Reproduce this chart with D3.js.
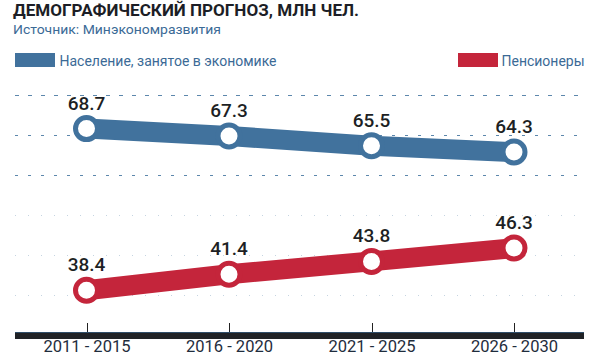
<!DOCTYPE html>
<html>
<head>
<meta charset="utf-8">
<script src="https://cdn.jsdelivr.net/npm/d3@7"></script>
<style>
html, body { margin: 0; padding: 0; background: #fff; }
svg { display: block; }
text { font-family: Roboto, "Liberation Sans", sans-serif; }
</style>
</head>
<body>
<svg id="chart" width="600" height="356"></svg>
<script>
const categories = ["2011 - 2015", "2016 - 2020", "2021 - 2025", "2026 - 2030"];
const employed = [68.7, 67.3, 65.5, 64.3];
const pensioners = [38.4, 41.4, 43.8, 46.3];
const seriesNames = ["Население, занятое в экономике", "Пенсионеры"];
const gridValues = [75, 67.5, 60, 52.5, 45, 37.5];
const title = "ДЕМОГРАФИЧЕСКИЙ ПРОГНОЗ, МЛН ЧЕЛ.";
const source = "Источник: Минэкономразвития";

const blue = "#41729d";
const red = "#c4253b";

const svg = d3.select("#chart");
const x = d3.scalePoint().domain(categories).range([86.5, 514]);
const y = d3.scaleLinear().domain([30, 75]).range([335, 95]);
const left = 15, right = 584;

// Title & source
svg.append("text").attr("x", 13).attr("y", 16)
  .attr("font-size", 17).attr("font-weight", 700).attr("fill", "#1c1e26")
  .attr("textLength", 346).attr("lengthAdjust", "spacingAndGlyphs")
  .text(title);
svg.append("text").attr("x", 13).attr("y", 33.5)
  .attr("font-size", 13).attr("fill", "#3b6a96")
  .attr("textLength", 208).attr("lengthAdjust", "spacingAndGlyphs")
  .text(source);

// Legend
const legend = [
  {name: seriesNames[0], color: blue, rx: 15, tx: 59.5, tw: 217},
  {name: seriesNames[1], color: red, rx: 458, tx: 501.5, tw: 83}
];
legend.forEach(l => {
  svg.append("rect").attr("x", l.rx).attr("y", 53).attr("width", 40).attr("height", 14).attr("fill", l.color);
  svg.append("text").attr("x", l.tx).attr("y", 65.5)
    .attr("font-size", 14).attr("fill", "#3b6a96")
    .attr("textLength", l.tw).attr("lengthAdjust", "spacingAndGlyphs")
    .text(l.name);
});

// Gridlines
svg.append("g").selectAll("line").data(gridValues).join("line")
  .attr("x1", left).attr("x2", right)
  .attr("y1", d => Math.round(y(d)) + 0.5).attr("y2", d => Math.round(y(d)) + 0.5)
  .attr("stroke", (d, i) => i < 3 ? "#4a7aa3" : "#7f9fbd")
  .attr("stroke-width", 1)
  .attr("stroke-opacity", (d, i) => i < 3 ? 0.9 : 0.45)
  .attr("stroke-dasharray", (d, i) => i === 0 ? "4 9" : (i < 3 ? "3 10" : "1 12"));

// Axis
const axisY = y(30);
svg.append("rect").attr("x", left).attr("y", axisY - 3).attr("width", right - left).attr("height", 7)
  .attr("fill", "#202226");
svg.append("line").attr("x1", left).attr("x2", right).attr("y1", axisY - 2.5).attr("y2", axisY - 2.5)
  .attr("stroke", "#3b6a96").attr("stroke-width", 1).attr("stroke-opacity", 0.6);
const axis = d3.axisBottom(x).tickSize(0).tickPadding(0);
const ag = svg.append("g").attr("transform", `translate(0,${axisY + 17})`).call(axis);
ag.select(".domain").remove();
ag.selectAll("text").attr("font-size", 16.5).attr("fill", "#1f2d3d")
  .attr("font-family", "Roboto, sans-serif").attr("dy", 0);
svg.append("g").selectAll("line").data(categories).join("line")
  .attr("x1", d => Math.round(x(d)) + 0.5).attr("x2", d => Math.round(x(d)) + 0.5)
  .attr("y1", axisY - 12).attr("y2", axisY - 3)
  .attr("stroke", "#222").attr("stroke-width", 1);

// Series
const series = [
  {values: employed, color: blue},
  {values: pensioners, color: red}
];
const line = d3.line().x((d, i) => x(categories[i])).y(d => y(d));
series.forEach(s => {
  svg.append("path").datum(s.values).attr("d", line)
    .attr("fill", "none").attr("stroke", s.color).attr("stroke-width", 20);
  svg.append("g").selectAll("circle").data(s.values).join("circle")
    .attr("cx", (d, i) => x(categories[i])).attr("cy", d => y(d)).attr("r", 11)
    .attr("fill", "#fff").attr("stroke", s.color).attr("stroke-width", 5);
  svg.append("g").selectAll("text").data(s.values).join("text")
    .attr("x", (d, i) => x(categories[i])).attr("y", d => y(d) - 19)
    .attr("text-anchor", "middle").attr("font-size", 19).attr("font-weight", 500)
    .attr("fill", "#1d1f24")
    .text(d => d.toFixed(1));
});
</script>
</body>
</html>
